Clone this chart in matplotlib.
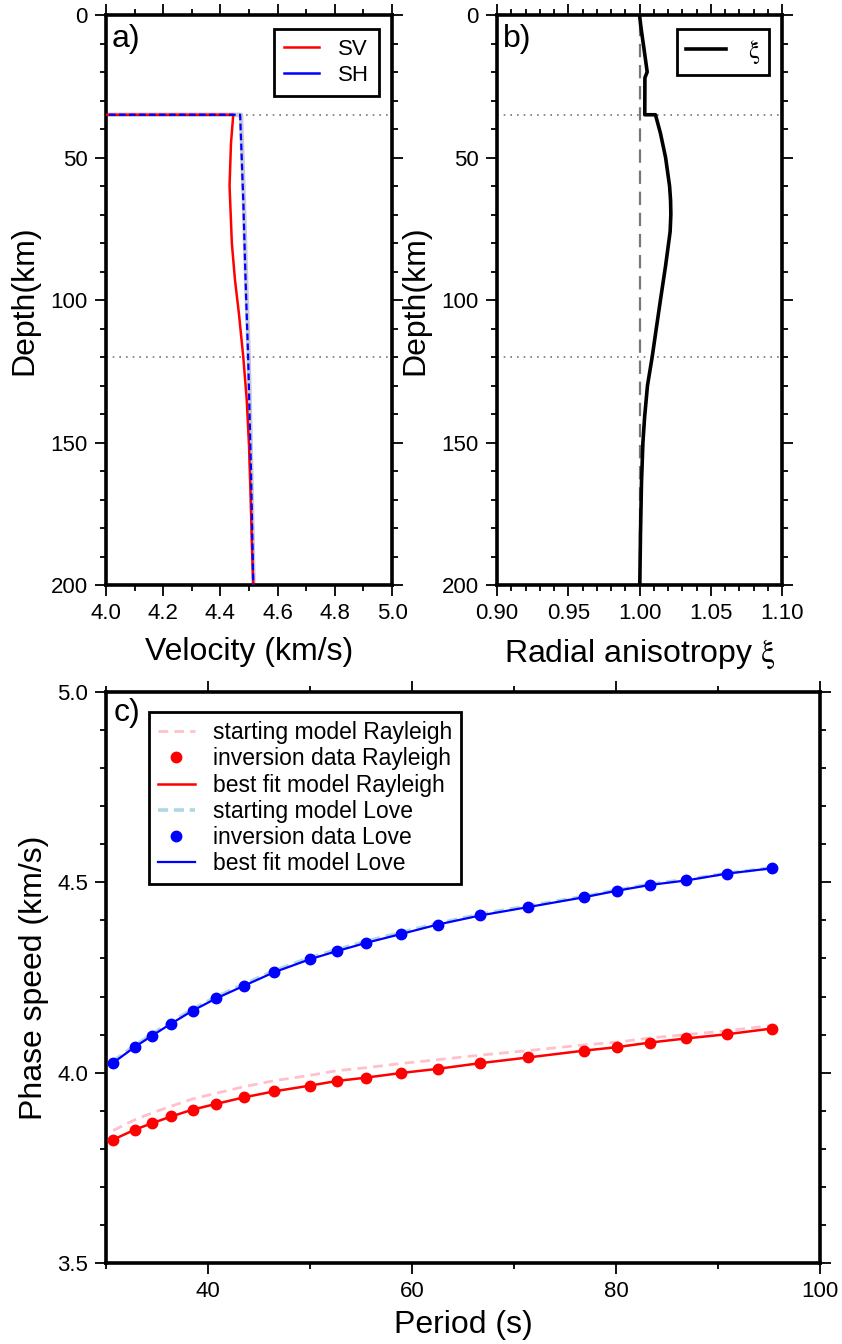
import matplotlib
matplotlib.use('Agg')
import matplotlib.pyplot as plt
from matplotlib.ticker import MultipleLocator, FormatStrFormatter

plt.rcParams['font.family'] = ['Liberation Sans', 'DejaVu Sans']
plt.rcParams['mathtext.fontset'] = 'stix'

# ---------------- data: panel a (velocity profiles) ----------------
depth_sv = [0, 35, 35, 45, 60, 80, 93, 105, 120, 135, 151, 170, 185, 200]
vsv = [3.55, 3.55, 4.445, 4.437, 4.432, 4.440, 4.451, 4.465, 4.480, 4.492, 4.500, 4.506, 4.510, 4.515]
depth_sh = [0, 35, 35, 65, 93, 120, 160, 200]
vsh = [3.60, 3.60, 4.469, 4.480, 4.488, 4.497, 4.507, 4.515]
vs_start = [3.60, 3.60, 4.472, 4.482, 4.490, 4.499, 4.508, 4.516]

# ---------------- data: panel b (radial anisotropy) ----------------
depth_xi = [0, 5, 12, 20, 22, 35, 35, 41.5, 50, 60, 65, 70, 76, 88, 100, 112, 120, 130, 141, 150, 164, 182, 200]
xi = [1.000, 1.0012, 1.0032, 1.0054, 1.0038, 1.0037, 1.0112, 1.0147, 1.0183, 1.0211, 1.0218, 1.0220,
      1.0215, 1.0183, 1.0147, 1.0112, 1.0089, 1.0056, 1.0036, 1.0024, 1.0014, 1.0007, 1.0002]
boundary_depths = [35, 120]

# ---------------- data: panel c (dispersion) ----------------
period = [30.7, 32.8, 34.5, 36.4, 38.5, 40.8, 43.5, 46.5, 50.0, 52.6, 55.5, 58.9,
          62.5, 66.7, 71.4, 76.9, 80.1, 83.3, 86.9, 90.9, 95.3]
ray_obs = [3.824, 3.850, 3.867, 3.885, 3.903, 3.918, 3.935, 3.951, 3.966, 3.978, 3.987, 3.999,
           4.010, 4.025, 4.040, 4.058, 4.067, 4.079, 4.090, 4.101, 4.116]
ray_fit = [3.824, 3.850, 3.867, 3.885, 3.903, 3.918, 3.935, 3.951, 3.966, 3.978, 3.987, 3.999,
           4.010, 4.025, 4.040, 4.058, 4.067, 4.079, 4.090, 4.101, 4.116]
ray_start = [3.848, 3.876, 3.894, 3.912, 3.931, 3.946, 3.963, 3.979, 3.993, 4.005, 4.013, 4.024,
             4.034, 4.046, 4.058, 4.073, 4.080, 4.091, 4.100, 4.110, 4.124]
love_obs = [4.026, 4.067, 4.097, 4.129, 4.163, 4.195, 4.228, 4.264, 4.298, 4.319, 4.341, 4.364,
            4.389, 4.413, 4.435, 4.461, 4.478, 4.493, 4.505, 4.523, 4.537]
love_fit = [4.026, 4.067, 4.097, 4.129, 4.163, 4.195, 4.228, 4.264, 4.298, 4.319, 4.341, 4.364,
            4.389, 4.413, 4.435, 4.461, 4.478, 4.493, 4.505, 4.523, 4.537]
love_start = [4.030, 4.071, 4.101, 4.133, 4.167, 4.199, 4.232, 4.268, 4.302, 4.323, 4.345, 4.368,
              4.392, 4.416, 4.438, 4.463, 4.480, 4.495, 4.507, 4.524, 4.538]

W, H = 842, 1344
fig = plt.figure(figsize=(W / 100, H / 100), dpi=100)


def ax_rect(x0, y0, x1, y1):
    return [x0 / W, 1 - y1 / H, (x1 - x0) / W, (y1 - y0) / H]


FRAME_LW = 2.6
TICK_FS = 16
LABEL_FS = 23


def style_axes(ax):
    for s in ax.spines.values():
        s.set_linewidth(FRAME_LW)
    ax.tick_params(which='both', direction='out', top=True, right=True,
                   labelsize=TICK_FS, width=1.3, pad=5)
    ax.tick_params(which='major', length=8)
    ax.tick_params(which='minor', length=4.5)


# ---------------- panel a ----------------
axa = fig.add_axes(ax_rect(106, 15, 392, 585))
for d in boundary_depths:
    axa.axhline(d, color='#777777', lw=1.2, ls=(0, (1, 3)), zorder=1)
axa.plot(vs_start, depth_sh, color='#c9c9dc', lw=3.2, zorder=2)
axa.plot(vsv, depth_sv, color='red', lw=1.8, zorder=3, label='SV')
axa.plot(vsh, depth_sh, color='blue', lw=1.6, ls=(0, (3, 1.5)), zorder=4)
axa.plot([], [], color='blue', lw=1.8, label='SH')
axa.set_xlim(4.0, 5.0)
axa.set_ylim(200, 0)
axa.xaxis.set_major_locator(MultipleLocator(0.2))
axa.xaxis.set_minor_locator(MultipleLocator(0.1))
axa.yaxis.set_major_locator(MultipleLocator(50))
axa.yaxis.set_minor_locator(MultipleLocator(10))
axa.xaxis.set_major_formatter(FormatStrFormatter('%.1f'))
style_axes(axa)
axa.set_xlabel('Velocity (km/s)', fontsize=LABEL_FS, labelpad=9)
axa.set_ylabel('Depth(km)', fontsize=LABEL_FS, labelpad=8)
axa.text(0.02, 0.985, 'a)', transform=axa.transAxes, fontsize=23, va='top', ha='left')
lga = axa.legend(loc='upper right', bbox_to_anchor=(0.955, 0.975), fontsize=16,
                 frameon=True, fancybox=False, edgecolor='black', framealpha=1,
                 handlelength=1.6, handletextpad=0.85, labelspacing=0.2,
                 borderpad=0.45, borderaxespad=0)
lga.get_frame().set_linewidth(2.0)

# ---------------- panel b ----------------
axb = fig.add_axes(ax_rect(497, 15, 782, 585))
for d in boundary_depths:
    axb.axhline(d, color='#777777', lw=1.2, ls=(0, (1, 3)), zorder=1)
axb.axvline(1.0, color='#777777', lw=1.6, ls=(0, (6, 3.5)), zorder=2)
axb.plot(xi, depth_xi, color='black', lw=2.6, zorder=3, label=r'$\mathrm{\xi}$')
axb.set_xlim(0.90, 1.10)
axb.set_ylim(200, 0)
axb.xaxis.set_major_locator(MultipleLocator(0.05))
axb.xaxis.set_minor_locator(MultipleLocator(0.01))
axb.yaxis.set_major_locator(MultipleLocator(50))
axb.yaxis.set_minor_locator(MultipleLocator(10))
axb.xaxis.set_major_formatter(FormatStrFormatter('%.2f'))
style_axes(axb)
axb.set_xlabel(r'Radial anisotropy $\mathrm{\xi}$', fontsize=LABEL_FS, labelpad=9)
axb.set_ylabel('Depth(km)', fontsize=LABEL_FS, labelpad=8)
axb.text(0.02, 0.985, 'b)', transform=axb.transAxes, fontsize=23, va='top', ha='left')
lgb = axb.legend(loc='upper right', bbox_to_anchor=(0.955, 0.975), fontsize=18,
                 frameon=True, fancybox=False, edgecolor='black', framealpha=1,
                 handlelength=1.6, handletextpad=0.9, borderpad=0.35, borderaxespad=0)
lgb.get_frame().set_linewidth(2.0)

# ---------------- panel c ----------------
axc = fig.add_axes(ax_rect(106, 692, 820, 1263))
axc.plot(period, ray_start, color='pink', lw=2.0, ls=(0, (3.5, 2.2)), zorder=2,
         label='starting model Rayleigh')
axc.plot(period, ray_obs, 'o', color='red', ms=7.5, zorder=4, label='inversion data Rayleigh',
         linestyle='none')
axc.plot(period, ray_fit, color='red', lw=1.8, zorder=3, label='best fit model Rayleigh')
axc.plot(period, love_start, color='lightblue', lw=2.6, ls=(0, (2.8, 1.6)), zorder=2,
         label='starting model Love')
axc.plot(period, love_obs, 'o', color='blue', ms=7.5, zorder=4, label='inversion data Love',
         linestyle='none')
axc.plot(period, love_fit, color='blue', lw=1.6, zorder=3, label='best fit model Love')
axc.set_xlim(30, 100)
axc.set_ylim(3.5, 5.0)
axc.xaxis.set_major_locator(MultipleLocator(20))
axc.xaxis.set_minor_locator(MultipleLocator(10))
axc.yaxis.set_major_locator(MultipleLocator(0.5))
axc.yaxis.set_minor_locator(MultipleLocator(0.1))
axc.yaxis.set_major_formatter(FormatStrFormatter('%.1f'))
style_axes(axc)
axc.set_xlabel('Period (s)', fontsize=LABEL_FS, labelpad=6)
axc.set_ylabel('Phase speed (km/s)', fontsize=LABEL_FS, labelpad=6)
axc.text(0.01, 0.99, 'c)', transform=axc.transAxes, fontsize=23, va='top', ha='left')
lgc = axc.legend(loc='upper left', bbox_to_anchor=(0.06, 0.965), fontsize=16.5,
                 frameon=True, fancybox=False, edgecolor='black', framealpha=1,
                 handlelength=1.6, handletextpad=0.8, labelspacing=0.14,
                 borderpad=0.4, borderaxespad=0, numpoints=1)
lgc.get_frame().set_linewidth(2.0)

fig.savefig('out.png', dpi=100)
